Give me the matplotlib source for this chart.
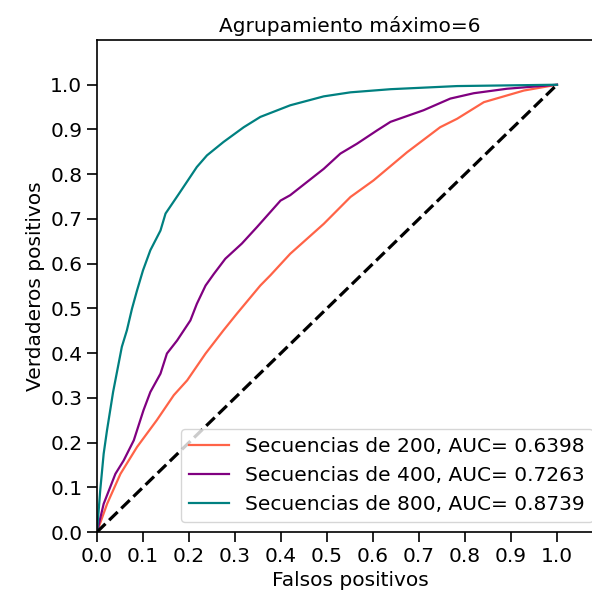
import numpy as np
import matplotlib.pyplot as plt

# curvas ROC
fpr_200 = [0, .022, .051, .087, .130, .167, .196, .236, .275, .304, .355, .377, .420, .493,
           .551, .601, .674, .746, .783, .841, .928, 1.0]
tpr_200 = [0, .063, .130, .190, .250, .306, .339, .399, .451, .488, .551, .574, .622, .689,
           .749, .786, .849, .905, .924, .961, .987, 1.0]

fpr_400 = [0, .0145, .040, .058, .080, .101, .116, .138, .152, .174, .203, .217, .236, .254,
           .279, .315, .348, .399, .420, .493, .529, .565, .609, .638, .710, .768, .819, .891, 1.0]
tpr_400 = [0, .063, .130, .160, .205, .272, .313, .354, .399, .428, .473, .510, .551, .577,
           .611, .645, .682, .741, .753, .812, .846, .868, .898, .917, .943, .969, .981, .991, 1.0]

fpr_800 = [0, .007, .0145, .0217, .035, .054, .065, .076, .087, .100, .116, .138, .149, .178,
           .217, .239, .275, .319, .355, .420, .493, .551, .638, .783, 1.0]
tpr_800 = [0, .093, .175, .227, .313, .414, .451, .499, .540, .585, .630, .674, .712, .756,
           .816, .842, .872, .905, .928, .954, .974, .983, .990, .997, 1.0]

etiquetas = ["Secuencias de 200, AUC= 0.6398",
             "Secuencias de 400, AUC= 0.7263",
             "Secuencias de 800, AUC= 0.8739"]
colores = ["tomato", "purple", "teal"]

fs = 14.5
fig = plt.figure(figsize=(5.92, 6.02), dpi=100)
ax = fig.add_axes([97/592, 70/602, 506/592, 492/602])

curvas = [(fpr_200, tpr_200), (fpr_400, tpr_400), (fpr_800, tpr_800)]
for (x, y), lab, c in zip(curvas, etiquetas, colores):
    ax.plot(x, y, color=c, lw=1.6, label=lab)
ax.plot([0, 1], [0, 1], 'k--', lw=2.3)

ax.set_xlim(0, 1.1)
ax.set_ylim(0, 1.1)
ticks = np.round(np.arange(0, 1.01, 0.1), 1)
ax.set_xticks(ticks)
ax.set_yticks(ticks)
ax.tick_params(labelsize=fs, length=7, width=1.2)
for s in ax.spines.values():
    s.set_linewidth(1.2)
ax.set_xlabel("Falsos positivos", fontsize=fs)
ax.set_ylabel("Verdaderos positivos", fontsize=fs)
ax.set_title("Agrupamiento máximo=6", fontsize=fs)
ax.legend(loc="lower right", fontsize=fs)

fig.savefig("out.png", dpi=100)
